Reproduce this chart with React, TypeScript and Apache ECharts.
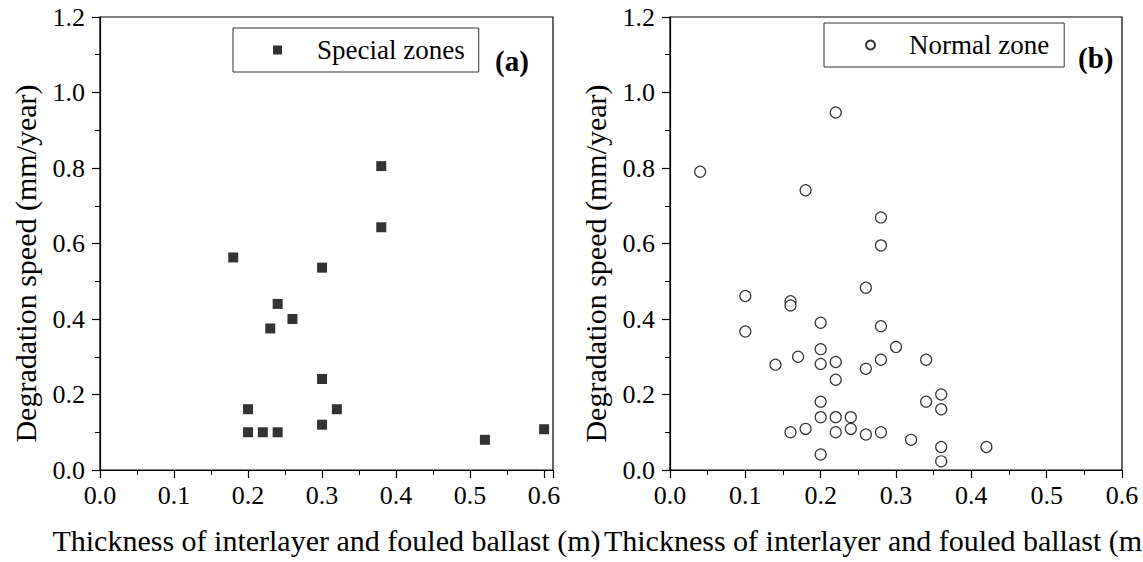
import React, { useEffect, useRef } from "react";
import * as echarts from "echarts";

const FONT = "'Liberation Serif', 'Times New Roman', serif";

const specialX = [0.38, 0.38, 0.18, 0.30, 0.24, 0.26, 0.23, 0.30, 0.20, 0.32, 0.20, 0.22, 0.24, 0.30, 0.52, 0.60];
const specialY = [0.805, 0.643, 0.563, 0.536, 0.44, 0.40, 0.375, 0.241, 0.161, 0.161, 0.10, 0.10, 0.10, 0.12, 0.08, 0.108];

const normalX = [0.04, 0.22, 0.18, 0.28, 0.28, 0.26, 0.10, 0.16, 0.16, 0.20, 0.28, 0.10, 0.30, 0.20, 0.17, 0.28, 0.34, 0.20, 0.22, 0.14,
  0.26, 0.22, 0.36, 0.20, 0.34, 0.36, 0.20, 0.22, 0.24, 0.16, 0.18, 0.22, 0.24, 0.26, 0.28, 0.32, 0.36, 0.42, 0.20, 0.36];
const normalY = [0.79, 0.947, 0.741, 0.669, 0.595, 0.483, 0.461, 0.447, 0.436, 0.39, 0.381, 0.367, 0.326, 0.32, 0.30, 0.292, 0.292, 0.281, 0.286, 0.279,
  0.268, 0.239, 0.20, 0.181, 0.181, 0.161, 0.14, 0.14, 0.14, 0.10, 0.109, 0.10, 0.109, 0.094, 0.10, 0.08, 0.061, 0.061, 0.041, 0.023];

const xTitle = "Thickness of interlayer and fouled ballast (m)";
const yTitle = "Degradation speed (mm/year)";
const seriesNames = ["Special zones", "Normal zone"];
const panelLabels = ["(a)", "(b)"];

export default function App() {
  const ref = useRef<HTMLDivElement>(null);
  useEffect(() => {
    if (!ref.current) return;
    const chart = echarts.init(ref.current, undefined, { renderer: "svg" });
    const axisLine = { show: true, lineStyle: { color: "#000", width: 1.2 } };
    const mkX = (grid: number, max: number, nameShift: number) => ({
      type: "value",
      gridIndex: grid,
      min: 0,
      max,
      interval: 0.1,
      axisLine,
      axisTick: { show: true, length: 8, lineStyle: { color: "#000", width: 1.2 } },
      minorTick: { show: true, splitNumber: 2, length: 5, lineStyle: { color: "#000", width: 1 } },
      splitLine: { show: false },
      axisLabel: {
        color: "#000", fontSize: 26, fontFamily: FONT, margin: 12,
        showMaxLabel: max > 0.6001 ? false : true,
        formatter: (v: number) => v.toFixed(1),
      },
      name: xTitle,
      nameLocation: "middle",
      nameGap: 55,
      nameTextStyle: { color: "#000", fontSize: 30, fontFamily: FONT, padding: [0, nameShift, 0, 0] },
    });
    const mkY = (grid: number) => ({
      type: "value",
      gridIndex: grid,
      min: 0,
      max: 1.2,
      interval: 0.2,
      axisLine,
      axisTick: { show: true, length: 8, lineStyle: { color: "#000", width: 1.2 } },
      minorTick: { show: true, splitNumber: 2, length: 5, lineStyle: { color: "#000", width: 1 } },
      splitLine: { show: false },
      axisLabel: { color: "#000", fontSize: 26, fontFamily: FONT, margin: 15, formatter: (v: number) => v.toFixed(1) },
      name: yTitle,
      nameLocation: "middle",
      nameGap: 60,
      nameTextStyle: { color: "#000", fontSize: 30, fontFamily: FONT, padding: [0, 40, 0, 0] },
    });
    const legendBase = {
      orient: "horizontal",
      itemWidth: 9,
      itemHeight: 9,
      borderColor: "#333",
      borderWidth: 1,
      borderRadius: 0,
      backgroundColor: "#fff",
      selectedMode: false,
    };
    chart.setOption({
      animation: false,
      grid: [
        { left: 100, top: 17, width: 453, height: 453, show: true, borderColor: "#000", borderWidth: 1.2, backgroundColor: "transparent", containLabel: false, outerBoundsMode: "none" },
        { left: 670, top: 17, width: 452, height: 453, show: true, borderColor: "#000", borderWidth: 1.2, backgroundColor: "transparent", containLabel: false, outerBoundsMode: "none" },
      ],
      xAxis: [mkX(0, 0.612, 0), mkX(1, 0.6, 36)],
      yAxis: [mkY(0), mkY(1)],
      legend: [
        {
          ...legendBase, data: [seriesNames[0]], left: 233, top: 28, padding: [7, 14, 7, 40],
          textStyle: { color: "#000", fontSize: 27, fontFamily: FONT, lineHeight: 30, padding: [0, 0, 0, 30] },
        },
        {
          ...legendBase, data: [seriesNames[1]], left: 824, top: 23, padding: [7, 15, 7, 41],
          textStyle: { color: "#000", fontSize: 27, fontFamily: FONT, lineHeight: 30, padding: [0, 0, 0, 29] },
        },
      ],
      graphic: [
        { type: "text", left: 495, top: 46, style: { text: panelLabels[0], font: `bold 29px ${FONT}`, fill: "#000" } },
        { type: "text", left: 1078, top: 43, style: { text: panelLabels[1], font: `bold 29px ${FONT}`, fill: "#000" } },
      ],
      series: [
        {
          name: seriesNames[0],
          type: "scatter",
          xAxisIndex: 0,
          yAxisIndex: 0,
          symbol: "rect",
          symbolSize: 10,
          itemStyle: { color: "#000" },
          data: specialX.map((x, i) => [x, specialY[i]]),
        },
        {
          name: seriesNames[1],
          type: "scatter",
          xAxisIndex: 1,
          yAxisIndex: 1,
          symbol: "circle",
          symbolSize: 11,
          itemStyle: { color: "#fff", borderColor: "#000", borderWidth: 1.2 },
          data: normalX.map((x, i) => [x, normalY[i]]),
        },
      ],
    });
    return () => chart.dispose();
  }, []);
  return <div ref={ref} style={{ position: "absolute", left: 0, top: 0, width: 1143, height: 562 }} />;
}
